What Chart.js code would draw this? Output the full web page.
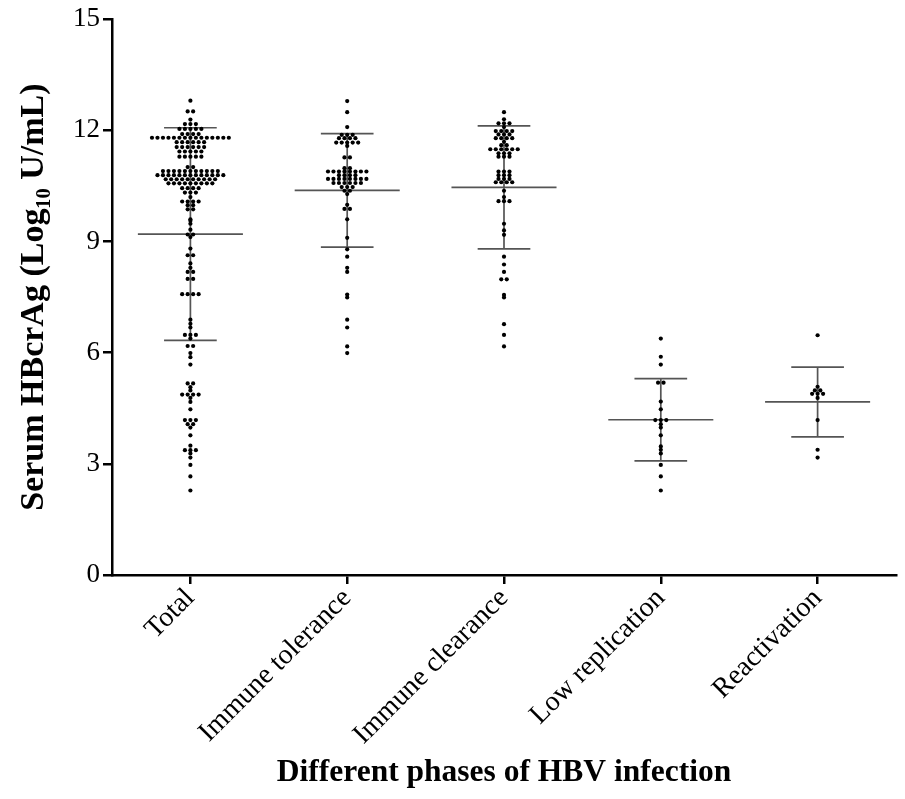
<!DOCTYPE html>
<html>
<head>
<meta charset="utf-8">
<script src="https://cdn.jsdelivr.net/npm/chart.js@4"></script>
<style>
  html, body { margin: 0; padding: 0; background: #fff; }
</style>
</head>
<body>
<canvas id="phaseChart" width="905" height="799"></canvas>
<script>
// phases on the x axis
const groups = ['Total', 'Immune tolerance', 'Immune clearance', 'Low replication', 'Reactivation'];
const yTicks = [0, 3, 6, 9, 12, 15];

// serum HBcrAg per patient, log10 U/mL
const totalVals = [
  12.80, 12.51, 12.51, 12.29, 12.17, 12.17, 12.17,
  12.04, 12.04, 12.04, 12.04, 12.04,
  11.90, 11.90, 11.90, 11.90,
  11.80, 11.80, 11.80, 11.80, 11.80, 11.80, 11.80, 11.80, 11.80, 11.80, 11.80, 11.80, 11.80, 11.80, 11.80,
  11.68, 11.68, 11.68, 11.68, 11.68, 11.68,
  11.55, 11.55, 11.55, 11.55, 11.55, 11.55,
  11.43, 11.43, 11.43, 11.43, 11.43,
  11.29, 11.29, 11.29, 11.29, 11.29,
  11.01, 11.01,
  10.90, 10.90, 10.90, 10.90, 10.90, 10.90, 10.90, 10.90, 10.90, 10.90, 10.90,
  10.79, 10.79, 10.79, 10.79, 10.79, 10.79, 10.79, 10.79, 10.79, 10.79, 10.79, 10.79, 10.79,
  10.68, 10.68, 10.68, 10.68, 10.68, 10.68, 10.68, 10.68, 10.68, 10.68,
  10.57, 10.57, 10.57, 10.57, 10.57, 10.57, 10.57, 10.57, 10.57,
  10.44, 10.44, 10.44, 10.44, 10.32, 10.32, 10.32, 10.20,
  10.08, 10.08, 10.08, 10.08, 9.98, 9.98, 9.87, 9.87,
  9.60, 9.56, 9.48, 9.32, 9.19, 9.19, 9.12, 8.81, 8.63, 8.63,
  8.41, 8.29, 8.18, 8.18, 7.99, 7.99, 7.58, 7.58, 7.58, 7.58,
  6.89, 6.78, 6.68, 6.48, 6.48, 6.48, 6.38, 6.18, 6.18, 5.99, 5.88, 5.68,
  5.17, 5.17, 5.07, 4.98, 4.87, 4.87, 4.87, 4.87, 4.78, 4.67, 4.47,
  4.18, 4.18, 4.18, 4.07, 4.07, 3.98, 3.77, 3.49, 3.37, 3.37, 3.37,
  3.28, 3.17, 2.97, 2.66, 2.28
];
const toleranceVals = [
  12.79, 12.49, 12.09, 11.88, 11.88, 11.88,
  11.79, 11.79, 11.79, 11.79, 11.67, 11.67, 11.67, 11.67, 11.67, 11.58,
  11.27, 11.27, 10.98, 10.98,
  10.89, 10.89, 10.89, 10.89, 10.89, 10.89, 10.89, 10.89,
  10.79, 10.79, 10.79, 10.79,
  10.69, 10.69, 10.69, 10.69, 10.69, 10.69, 10.69, 10.69,
  10.58, 10.58, 10.58, 10.58, 10.58, 10.58,
  10.47, 10.47, 10.47, 10.37, 10.37, 10.28,
  9.99, 9.88, 9.88, 9.60, 9.10, 8.79, 8.59,
  8.29, 8.18, 7.57, 7.49, 6.89, 6.68, 6.17, 5.99
];
const clearanceVals = [
  12.49, 12.30, 12.19, 12.19, 12.19, 12.09,
  11.98, 11.98, 11.98, 11.98, 11.89, 11.89, 11.89,
  11.79, 11.79, 11.79, 11.79, 11.69, 11.60, 11.60,
  11.49, 11.49, 11.49, 11.49, 11.49, 11.49,
  11.38, 11.38, 11.38, 11.29, 11.29, 11.29,
  10.89, 10.89, 10.89, 10.79, 10.79, 10.79, 10.69, 10.69, 10.69,
  10.60, 10.60, 10.60, 10.60, 10.37, 10.20, 10.09, 10.09, 10.09,
  9.48, 9.30, 9.18, 8.59, 8.38, 8.18, 7.98, 7.98, 7.56, 7.49, 6.77, 6.48, 6.17
];
const lowRepVals = [
  6.38, 5.89, 5.68, 5.19, 5.19, 4.68, 4.47, 4.18, 4.18, 4.18,
  4.07, 3.98, 3.77, 3.47, 3.38, 3.28, 2.97, 2.66, 2.28
];
const reactVals = [6.47, 5.08, 4.98, 4.98, 4.89, 4.89, 4.89, 4.78, 4.18, 3.38, 3.17];

// mean and SD for each phase
const groupMeans = [9.20, 10.38, 10.46, 4.19, 4.67];
const groupSDs = [2.87, 1.53, 1.66, 1.11, 0.94];

const serif = "'Liberation Serif', 'Times New Roman', serif";
const dotGap = 0.035; // horizontal spacing of tied dots, in x units

// spread dots with the same value side by side, centred on the column
function swarm(values, idx) {
  const counts = {};
  const used = {};
  values.forEach(v => { counts[v] = (counts[v] || 0) + 1; });
  return values.map(v => {
    const k = used[v] = (used[v] === undefined ? 0 : used[v] + 1);
    return { x: idx + (k - (counts[v] - 1) / 2) * dotGap, y: v };
  });
}

const allVals = [totalVals, toleranceVals, clearanceVals, lowRepVals, reactVals];

// mean line plus SD whiskers drawn under the dots
const meanSdBars = {
  id: 'meanSdBars',
  beforeDatasetsDraw(chart) {
    const { ctx, scales: { x, y } } = chart;
    ctx.save();
    ctx.strokeStyle = '#555';
    ctx.lineWidth = 1.7;
    groupMeans.forEach((m, i) => {
      const cx = x.getPixelForValue(i);
      const wMean = x.getPixelForValue(i + 0.335) - cx;
      const wCap = x.getPixelForValue(i + 0.168) - cx;
      const yHi = y.getPixelForValue(m + groupSDs[i]);
      const yLo = y.getPixelForValue(m - groupSDs[i]);
      const yM = y.getPixelForValue(m);
      ctx.beginPath();
      ctx.moveTo(cx, yHi); ctx.lineTo(cx, yLo);
      ctx.moveTo(cx - wCap, yHi); ctx.lineTo(cx + wCap, yHi);
      ctx.moveTo(cx - wCap, yLo); ctx.lineTo(cx + wCap, yLo);
      ctx.moveTo(cx - wMean, yM); ctx.lineTo(cx + wMean, yM);
      ctx.stroke();
    });
    ctx.restore();
  }
};

new Chart(document.getElementById('phaseChart'), {
  type: 'scatter',
  data: {
    datasets: allVals.map((vals, i) => ({
      label: groups[i],
      data: swarm(vals, i),
      pointRadius: 2.1,
      pointBorderWidth: 0,
      pointBackgroundColor: '#000',
      pointBorderColor: '#000'
    }))
  },
  options: {
    responsive: false,
    animation: false,
    layout: { padding: { top: 16, right: 9, left: 0, bottom: 0 } },
    plugins: {
      legend: { display: false },
      tooltip: { enabled: false }
    },
    scales: {
      x: {
        type: 'linear',
        min: -0.5,
        max: 4.5,
        afterBuildTicks: axis => { axis.ticks = groups.map((g, i) => ({ value: i })); },
        afterFit: axis => { axis.height = 224; },
        ticks: {
          autoSkip: false,
          minRotation: 45,
          maxRotation: 45,
          padding: -2,
          color: '#000',
          font: { family: serif, size: 28 },
          callback: v => groups[v]
        },
        grid: {
          display: true,
          drawOnChartArea: false,
          drawTicks: true,
          tickLength: 9,
          color: '#000',
          lineWidth: 2.5
        },
        border: { display: true, color: '#000', width: 2.5 },
        title: {
          display: true,
          text: 'Different phases of HBV infection',
          color: '#000',
          font: { family: serif, size: 31.5, weight: 'bold' },
          padding: { top: 0, bottom: 7 }
        }
      },
      y: {
        min: 0,
        max: 15,
        afterBuildTicks: axis => { axis.ticks = yTicks.map(v => ({ value: v })); },
        afterFit: axis => { axis.width = 112; },
        ticks: {
          padding: 3,
          color: '#000',
          font: { family: serif, size: 27 }
        },
        grid: {
          display: true,
          drawOnChartArea: false,
          drawTicks: true,
          tickLength: 9,
          color: '#000',
          lineWidth: 2.5
        },
        border: { display: true, color: '#000', width: 2.5 },
        title: {
          display: true,
          text: 'Serum HBcrAg (Log\u2081\u2080 U/mL)',
          color: '#000',
          font: { family: serif, size: 34, weight: 'bold' },
          padding: { top: 14, bottom: 0 }
        }
      }
    }
  },
  plugins: [meanSdBars]
});
</script>
</body>
</html>
